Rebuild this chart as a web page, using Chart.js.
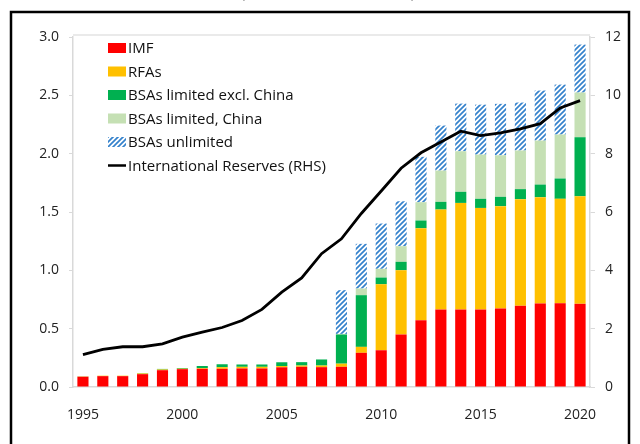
<!DOCTYPE html>
<html>
<head>
<meta charset="utf-8">
<script src="https://cdn.jsdelivr.net/npm/chart.js@4/dist/chart.umd.min.js"></script>
<style>
  html, body { margin: 0; padding: 0; background: #fff; }
  #wrap { width: 640px; height: 444px; position: relative; }
</style>
</head>
<body>
<div id="wrap"><canvas id="gsnChart" width="640" height="444"></canvas></div>
<script>
// data (US$ trillions, reserves on RHS)
const years = ['1995','1996','1997','1998','1999','2000','2001','2002','2003','2004','2005','2006','2007',
               '2008','2009','2010','2011','2012','2013','2014','2015','2016','2017','2018','2019','2020'];
const imf = [0.088,0.093,0.093,0.110,0.144,0.153,0.156,0.156,0.159,0.159,0.169,0.173,0.170,
             0.173,0.293,0.315,0.450,0.572,0.664,0.664,0.664,0.673,0.696,0.716,0.718,0.713];
const rfas = [0.002,0.004,0.004,0.006,0.006,0.004,0.006,0.014,0.014,0.014,0.011,0.011,0.014,
              0.027,0.051,0.566,0.551,0.789,0.857,0.914,0.871,0.877,0.914,0.911,0.895,0.922];
const bsaExChina = [0,0,0,0.003,0.005,0.006,0.018,0.025,0.020,0.020,0.032,0.029,0.052,
                    0.250,0.443,0.057,0.072,0.066,0.066,0.095,0.078,0.080,0.086,0.108,0.174,0.506];
const bsaChina = [0.004,0,0,0,0,0,0,0,0,0,0,0,0,
                  0.005,0.057,0.075,0.134,0.157,0.268,0.348,0.379,0.356,0.331,0.377,0.377,0.383];
const bsaUnlimited = [0,0,0,0,0,0,0,0,0,0,0,0,0,
                      0.375,0.383,0.388,0.385,0.389,0.386,0.408,0.428,0.441,0.411,0.429,0.428,0.411];
const reserves = [1.11,1.29,1.38,1.38,1.48,1.71,1.88,2.04,2.28,2.66,3.25,3.74,4.57,
                  5.08,5.95,6.72,7.50,8.03,8.40,8.77,8.62,8.71,8.85,9.03,9.57,9.82];
const leftTicks = [0, 0.5, 1.0, 1.5, 2.0, 2.5, 3.0];
const rightTicks = [0, 2, 4, 6, 8, 10, 12];

const FONT = '"Open Sans", "Noto Sans", sans-serif';

// diagonal blue hatch for unlimited swap lines
function makeHatch() {
    const s = 5;
    const c = document.createElement('canvas');
    c.width = s; c.height = s;
    const g = c.getContext('2d');
    g.fillStyle = '#ffffff';
    g.fillRect(0, 0, s, s);
    g.strokeStyle = '#3582cc';
    g.lineWidth = 1.7;
    g.beginPath();
    g.moveTo(0, s); g.lineTo(s, 0);
    g.moveTo(-1, 1); g.lineTo(1, -1);
    g.moveTo(s - 1, s + 1); g.lineTo(s + 1, s - 1);
    g.stroke();
    return document.getElementById('gsnChart').getContext('2d').createPattern(c, 'repeat');
}
const hatch = makeHatch();

const legendItems = [
    { text: 'IMF', fill: '#ff0000' },
    { text: 'RFAs', fill: '#ffc000' },
    { text: 'BSAs limited excl. China', fill: '#00b050' },
    { text: 'BSAs limited, China', fill: '#c5e0b4' },
    { text: 'BSAs unlimited', fill: hatch },
    { text: 'International Reserves (RHS)', line: true }
];

// frame, cut-off subtitle, plot border and legend
const decor = {
    id: 'decor',
    beforeDraw(chart) {
        const ctx = chart.ctx;
        ctx.save();
        ctx.fillStyle = '#ffffff';
        ctx.fillRect(0, 0, chart.width, chart.height);
        ctx.fillStyle = '#333';
        ctx.font = '16px ' + FONT;
        ctx.textAlign = 'center';
        ctx.textBaseline = 'alphabetic';
        ctx.fillText('(Trillions of U.S. dollars)', 328, -2);
        ctx.strokeStyle = '#000';
        ctx.lineWidth = 2.5;
        ctx.beginPath();
        ctx.moveTo(11, 460); ctx.lineTo(11, 12); ctx.lineTo(629, 12); ctx.lineTo(629, 460);
        ctx.stroke();
        const a = chart.chartArea;
        ctx.strokeStyle = '#e3e3e3';
        ctx.lineWidth = 1.5;
        ctx.beginPath();
        ctx.moveTo(a.left, a.top - 2); ctx.lineTo(a.right, a.top - 2);
        ctx.stroke();
        ctx.restore();
    },
    afterDraw(chart) {
        const ctx = chart.ctx;
        ctx.save();
        ctx.font = '15px ' + FONT;
        ctx.textBaseline = 'middle';
        ctx.textAlign = 'left';
        legendItems.forEach((it, i) => {
            const y = 48 + i * 23.5;
            if (it.line) {
                ctx.strokeStyle = '#000';
                ctx.lineWidth = 2.5;
                ctx.beginPath();
                ctx.moveTo(108, y); ctx.lineTo(126, y);
                ctx.stroke();
            } else {
                ctx.fillStyle = it.fill;
                ctx.fillRect(108, y - 5, 18, 10);
            }
            ctx.fillStyle = '#111';
            ctx.fillText(it.text, 128, y + 1);
        });
        ctx.restore();
    }
};

const barOpts = { barPercentage: 0.56, categoryPercentage: 1.0, borderWidth: 0, yAxisID: 'y', order: 2 };

const config = {
    type: 'bar',
    data: {
        labels: years,
        datasets: [
            Object.assign({ label: 'IMF', data: imf, backgroundColor: '#ff0000' }, barOpts),
            Object.assign({ label: 'RFAs', data: rfas, backgroundColor: '#ffc000' }, barOpts),
            Object.assign({ label: 'BSAs limited excl. China', data: bsaExChina, backgroundColor: '#00b050' }, barOpts),
            Object.assign({ label: 'BSAs limited, China', data: bsaChina, backgroundColor: '#c5e0b4' }, barOpts),
            Object.assign({ label: 'BSAs unlimited', data: bsaUnlimited, backgroundColor: hatch }, barOpts),
            {
                type: 'line',
                label: 'International Reserves (RHS)',
                data: reserves,
                yAxisID: 'y1',
                borderColor: '#000',
                borderWidth: 2.8,
                pointRadius: 0,
                tension: 0,
                fill: false,
                order: 1
            }
        ]
    },
    options: {
        responsive: false,
        animation: false,
        layout: { padding: { top: 37, left: 0, right: 0, bottom: 0 } },
        plugins: { legend: { display: false }, tooltip: { enabled: false } },
        scales: {
            x: {
                stacked: true,
                grid: { display: false },
                border: { display: true, color: '#d9d9d9', width: 1.5 },
                ticks: {
                    autoSkip: false,
                    maxRotation: 0,
                    padding: 12,
                    color: '#222',
                    font: { family: FONT, size: 14 },
                    callback: function (v) {
                        const y = this.getLabelForValue(v);
                        return (+y % 5 === 0) ? y : '';
                    }
                },
                afterFit(s) { s.height = 57; }
            },
            y: {
                stacked: true,
                position: 'left',
                min: 0, max: 3,
                afterBuildTicks(s) { s.ticks = leftTicks.map(v => ({ value: v })); },
                grid: { drawOnChartArea: false, drawTicks: true, tickLength: 4, color: '#d9d9d9' },
                border: { display: true, color: '#d9d9d9', width: 1.5 },
                ticks: {
                    padding: 10,
                    color: '#222',
                    font: { family: FONT, size: 14 },
                    callback: v => v.toFixed(1)
                },
                afterFit(s) { s.width = 73; }
            },
            y1: {
                position: 'right',
                min: 0, max: 12,
                afterBuildTicks(s) { s.ticks = rightTicks.map(v => ({ value: v })); },
                grid: { drawOnChartArea: false, drawTicks: true, tickLength: 5, color: '#d9d9d9' },
                border: { display: true, color: '#d9d9d9', width: 1.5 },
                ticks: {
                    padding: 10,
                    color: '#222',
                    font: { family: FONT, size: 14 }
                },
                afterFit(s) { s.width = 50; }
            }
        }
    },
    plugins: [decor]
};

new Chart(document.getElementById('gsnChart'), config);
</script>
</body>
</html>
